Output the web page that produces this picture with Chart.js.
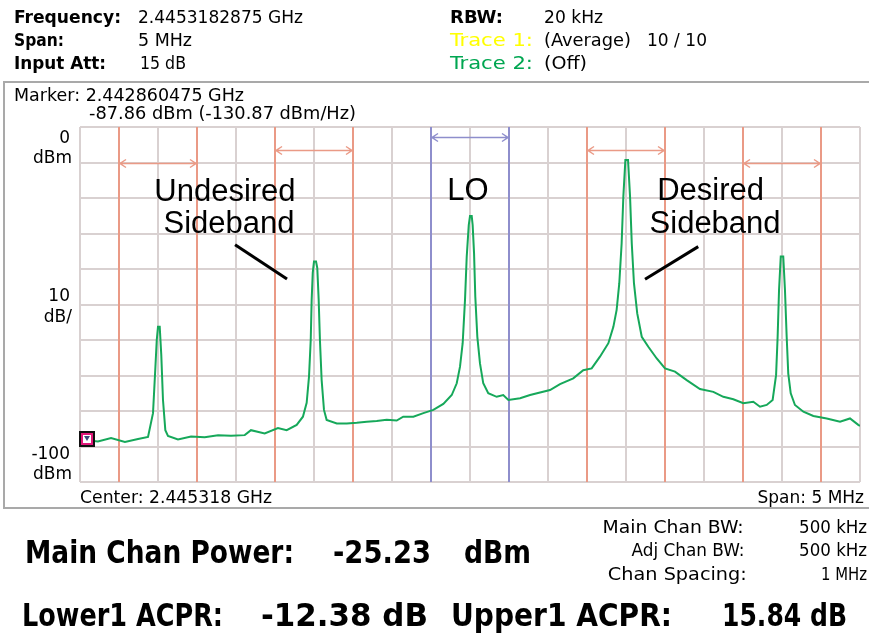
<!DOCTYPE html>
<html>
<head>
<title>ACPR</title>
<script src="https://cdn.jsdelivr.net/npm/chart.js@4.4.0/dist/chart.umd.min.js"></script>
<style>
  body {margin:0; width:869px; height:638px; overflow:hidden; background:#fff; position:relative;
        font-family:"DejaVu Sans Condensed","DejaVu Sans",sans-serif; color:#000;}
  .t {position:absolute; white-space:nowrap; line-height:20px; font-size:18px;}
  .b {font-weight:bold;}
  .m {font-family:"DejaVu Sans",sans-serif; font-size:17px;}
  .big {font-size:32px; line-height:36px; font-weight:bold;}
  #box {position:absolute; left:3px; top:81px; width:900px; height:424px; border:2px solid #a9a9a9;}
  #spec {position:absolute; left:0; top:0;}
</style>
</head>
<body>

<div id="box"></div>
<canvas id="spec" width="869" height="638"></canvas>

<!-- header -->
<div class="t b" style="left:14px;top:7px" data-w="107">Frequency:</div>
<div class="t" style="left:138px;top:7px" data-w="165">2.4453182875 GHz</div>
<div class="t b" style="left:14px;top:30px" data-w="50">Span:</div>
<div class="t" style="left:138px;top:30px" data-w="54">5 MHz</div>
<div class="t b" style="left:14px;top:53px" data-w="92">Input Att:</div>
<div class="t" style="left:140px;top:53px" data-w="46">15 dB</div>
<div class="t b" style="left:450px;top:7px" data-w="53">RBW:</div>
<div class="t" style="left:544px;top:7px" data-w="59">20 kHz</div>
<div class="t" style="left:450px;top:30px;color:#ffff00" data-w="83">Trace 1:</div>
<div class="t" style="left:544px;top:30px" data-w="87">(Average)</div>
<div class="t" style="left:647px;top:30px" data-w="60">10 / 10</div>
<div class="t" style="left:450px;top:53px;color:#00a651" data-w="83">Trace 2:</div>
<div class="t" style="left:544px;top:53px" data-w="43">(Off)</div>

<!-- marker readout and axis labels -->
<div class="t m" style="left:14px;top:85px" data-w="230">Marker: 2.442860475 GHz</div>
<div class="t m" style="left:89px;top:103px" data-w="267">-87.86 dBm (-130.87 dBm/Hz)</div>
<div class="t m" style="right:799px;top:127px">0</div>
<div class="t m" style="right:797px;top:147px">dBm</div>
<div class="t m" style="right:799px;top:285px">10</div>
<div class="t m" style="right:797px;top:306px">dB/</div>
<div class="t m" style="right:799px;top:443px">-100</div>
<div class="t m" style="right:797px;top:463px">dBm</div>
<div class="t m" style="left:80px;top:487px" data-w="192">Center: 2.445318 GHz</div>
<div class="t m" style="right:5px;top:487px" data-r="1">Span: 5 MHz</div>

<!-- results -->
<div class="t big" style="left:25px;top:534px" data-w="269">Main Chan Power:</div>
<div class="t big" style="left:333px;top:534px" data-w="98">-25.23</div>
<div class="t big" style="left:464px;top:534px" data-w="67">dBm</div>
<div class="t big" style="left:22px;top:597px" data-w="201">Lower1 ACPR:</div>
<div class="t big" style="left:261px;top:597px" data-w="167">-12.38 dB</div>
<div class="t big" style="left:451px;top:597px" data-w="221">Upper1 ACPR:</div>
<div class="t big" style="left:722px;top:597px" data-w="125">15.84 dB</div>
<div class="t" style="right:125px;top:517px" data-w="141" data-r="1">Main Chan BW:</div>
<div class="t" style="right:2px;top:517px" data-w="68" data-r="1">500 kHz</div>
<div class="t" style="right:125px;top:540px" data-w="113" data-r="1">Adj Chan BW:</div>
<div class="t" style="right:2px;top:540px" data-w="68" data-r="1">500 kHz</div>
<div class="t" style="right:122px;top:564px" data-w="139" data-r="1">Chan Spacing:</div>
<div class="t" style="right:2px;top:564px" data-w="46" data-r="1">1 MHz</div>

<script>
// trace 1, frequency offset from center (MHz) and level (dBm)
var freqOffsetMHz = [-2.5, -2.468, -2.385, -2.301, -2.212, -2.128, -2.064, -2.032, -2.017, -2.008,
  -2.0, -1.989, -1.979, -1.968, -1.953, -1.936, -1.872, -1.788, -1.701, -1.615,
  -1.532, -1.444, -1.404, -1.316, -1.231, -1.175, -1.111, -1.071, -1.047, -1.032,
  -1.021, -1.015, -1.008, -1.0, -0.987, -0.979, -0.970, -0.962, -0.951, -0.936,
  -0.919, -0.854, -0.790, -0.726, -0.662, -0.598, -0.534, -0.470, -0.428, -0.363,
  -0.299, -0.235, -0.171, -0.117, -0.085, -0.064, -0.047, -0.032, -0.021, -0.008,
  0.0, 0.011, 0.017, 0.026, 0.034, 0.047, 0.064, 0.085, 0.117, 0.171,
  0.213, 0.246, 0.321, 0.385, 0.449, 0.513, 0.577, 0.662, 0.726, 0.780,
  0.833, 0.887, 0.919, 0.940, 0.957, 0.972, 0.983, 0.996, 1.013, 1.026,
  1.037, 1.051, 1.072, 1.101, 1.143, 1.197, 1.250, 1.314, 1.389, 1.474,
  1.560, 1.624, 1.688, 1.752, 1.816, 1.859, 1.902, 1.940, 1.962, 1.972,
  1.981, 1.992, 2.008, 2.019, 2.030, 2.040, 2.056, 2.083, 2.137, 2.201,
  2.287, 2.372, 2.436, 2.489, 2.5];
var levelDbm = [-88.2, -88.2, -88.6, -87.6, -88.7, -87.9, -87.3, -80.6, -67.9, -60.0,
  -56.3, -56.3, -64.2, -76.9, -85.4, -87.0, -88.0, -87.2, -87.4, -86.8,
  -87.0, -86.8, -85.4, -86.3, -84.8, -85.4, -83.9, -81.6, -77.7, -70.3,
  -60.0, -48.7, -41.1, -37.9, -37.9, -39.7, -48.7, -60.0, -71.3, -79.7,
  -82.5, -83.5, -83.5, -83.3, -83.0, -82.8, -82.5, -82.7, -81.6, -81.6,
  -80.6, -79.7, -78.0, -75.5, -72.2, -67.5, -60.9, -48.7, -36.5, -27.6,
  -25.1, -25.1, -27.6, -35.6, -47.8, -59.1, -66.6, -72.2, -75.0, -76.0,
  -75.5, -76.9, -76.4, -75.5, -74.8, -74.1, -72.4, -70.8, -68.5, -68.0,
  -64.7, -60.9, -56.3, -51.5, -44.0, -32.8, -19.6, -9.3, -9.3, -19.6,
  -32.8, -44.0, -52.5, -59.1, -61.9, -65.2, -68.0, -68.9, -71.3, -73.8,
  -74.6, -76.0, -76.7, -77.8, -77.4, -78.8, -78.3, -76.9, -69.9, -59.1,
  -45.9, -36.5, -36.5, -45.9, -59.1, -69.4, -75.0, -78.3, -80.2, -81.4,
  -82.1, -83.0, -82.1, -83.9, -84.2];

// channels: centers (MHz offset), bandwidth, level of the width arrows
var channelCenters = [-2, -1, 0, 1, 2];
var channelBW = 0.5;
var channelArrowDbm = [-10.1, -6.5, -2.8, -6.5, -10.1];

// marker
var markerOffsetMHz = -2.4578;
var markerDbm = -87.86;

// text callouts, in (MHz, dBm)
var callouts = [
  {text: 'Undesired', x: -1.571, y: -20.8},
  {text: 'Sideband', x: -1.545, y: -29.9},
  {text: 'LO', x: -0.013, y: -20.6},
  {text: 'Desired', x: 1.542, y: -20.6},
  {text: 'Sideband', x: 1.571, y: -29.9}
];
var pointers = [
  [-1.506, -33.2, -1.173, -42.8],
  [1.463, -33.7, 1.122, -42.9]
];

var red = '#ea9a86';
var blue = '#8e8ecc';

function arrow(ctx, l, r, y) {
  ctx.beginPath();
  ctx.moveTo(l, y); ctx.lineTo(r, y);
  ctx.moveTo(l + 6, y - 4); ctx.lineTo(l, y); ctx.lineTo(l + 6, y + 4);
  ctx.moveTo(r - 6, y - 4); ctx.lineTo(r, y); ctx.lineTo(r - 6, y + 4);
  ctx.stroke();
}

var overlay = {
  id: 'overlay',
  beforeDatasetsDraw: function(chart) {
    var ctx = chart.ctx, a = chart.chartArea, x = chart.scales.x, y = chart.scales.y;
    ctx.save();
    channelCenters.forEach(function(c, i) {
      var l = Math.round(x.getPixelForValue(c - channelBW / 2));
      var r = Math.round(x.getPixelForValue(c + channelBW / 2));
      ctx.strokeStyle = c === 0 ? blue : red;
      ctx.lineWidth = 2;
      ctx.beginPath();
      ctx.moveTo(l, a.top); ctx.lineTo(l, a.bottom);
      ctx.moveTo(r, a.top); ctx.lineTo(r, a.bottom);
      ctx.stroke();
      ctx.lineWidth = 1.5;
      arrow(ctx, l + 1, r - 1, Math.round(y.getPixelForValue(channelArrowDbm[i])) + 0.5);
    });
    ctx.restore();
  },
  afterDatasetsDraw: function(chart) {
    var ctx = chart.ctx, x = chart.scales.x, y = chart.scales.y;
    ctx.save();
    ctx.fillStyle = '#000';
    ctx.font = '31px "Liberation Sans", Arial, sans-serif';
    ctx.textAlign = 'center';
    ctx.textBaseline = 'alphabetic';
    callouts.forEach(function(c) {
      ctx.fillText(c.text, x.getPixelForValue(c.x), y.getPixelForValue(c.y));
    });
    ctx.strokeStyle = '#000';
    ctx.lineWidth = 3;
    pointers.forEach(function(p) {
      ctx.beginPath();
      ctx.moveTo(x.getPixelForValue(p[0]), y.getPixelForValue(p[1]));
      ctx.lineTo(x.getPixelForValue(p[2]), y.getPixelForValue(p[3]));
      ctx.stroke();
    });
    // marker symbol
    var mx = Math.round(x.getPixelForValue(markerOffsetMHz)), my = Math.round(y.getPixelForValue(markerDbm));
    ctx.fillStyle = '#fff';
    ctx.fillRect(mx - 7, my - 7, 14, 14);
    ctx.lineWidth = 2;
    ctx.strokeStyle = '#111';
    ctx.strokeRect(mx - 7, my - 7, 14, 14);
    ctx.strokeStyle = '#e0187a';
    ctx.strokeRect(mx - 5, my - 5, 10, 10);
    ctx.fillStyle = '#3a4a7a';
    ctx.beginPath();
    ctx.moveTo(mx - 3, my - 3); ctx.lineTo(mx + 3, my - 3); ctx.lineTo(mx, my + 2);
    ctx.closePath();
    ctx.fill();
    ctx.restore();
  }
};

new Chart(document.getElementById('spec'), {
  type: 'line',
  data: {
    datasets: [{
      data: freqOffsetMHz.map(function(f, i) { return {x: f, y: levelDbm[i]}; }),
      borderColor: '#16a85a',
      borderWidth: 2,
      pointRadius: 0,
      tension: 0,
      fill: false
    }]
  },
  options: {
    responsive: false,
    animation: false,
    layout: {padding: {left: 80, top: 127, right: 9, bottom: 156}},
    plugins: {legend: {display: false}, tooltip: {enabled: false}},
    scales: {
      x: {
        type: 'linear', min: -2.5, max: 2.5,
        ticks: {display: false, stepSize: 0.5},
        grid: {color: '#d9d1d1', lineWidth: 2, drawTicks: false},
        border: {display: false}
      },
      y: {
        min: -100, max: 0,
        ticks: {display: false, stepSize: 10},
        grid: {color: '#d9d1d1', lineWidth: 2, drawTicks: false},
        border: {display: false}
      }
    }
  },
  plugins: [overlay]
});

// squeeze text runs to the widths they have on the analyzer screen
document.querySelectorAll('[data-w]').forEach(function(el) {
  var w = el.getBoundingClientRect().width;
  el.style.transformOrigin = el.dataset.r ? 'right center' : 'left center';
  el.style.transform = 'scaleX(' + (+el.dataset.w / w) + ')';
});
</script>
</body>
</html>
